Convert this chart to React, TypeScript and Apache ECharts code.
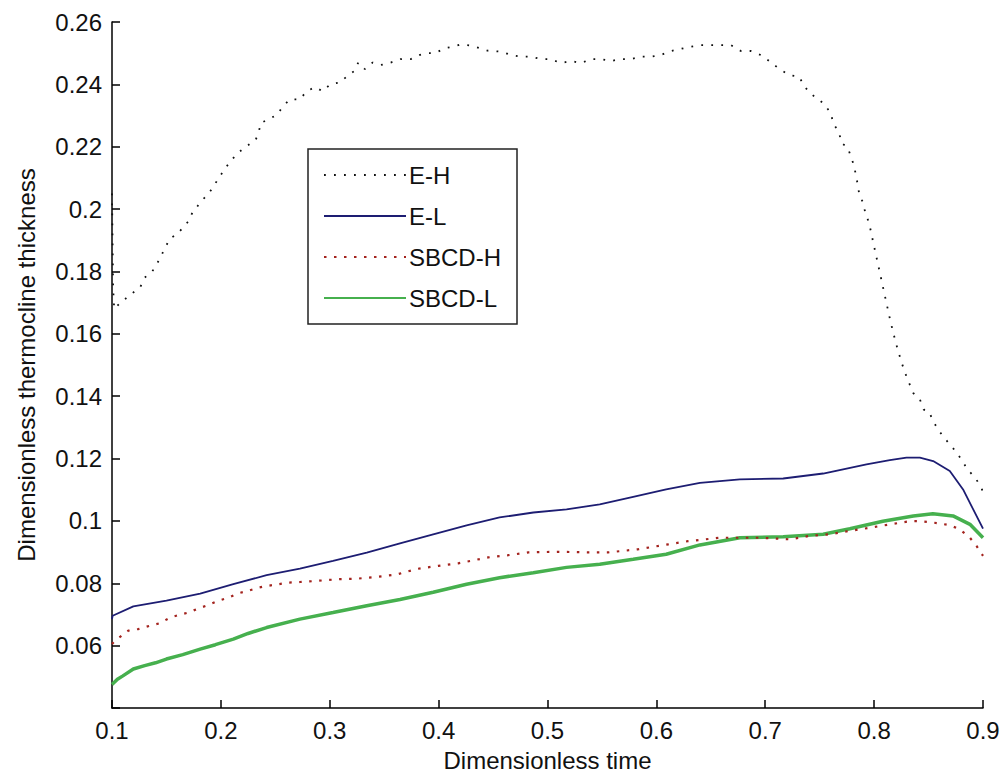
import React, { useEffect, useRef } from "react";
import * as echarts from "echarts";

const seriesNames = ["E-H", "E-L", "SBCD-H", "SBCD-L"];

const ehT = [0.1, 0.1005, 0.101, 0.102, 0.107, 0.115, 0.126, 0.13, 0.137, 0.143, 0.153, 0.16, 0.17, 0.174, 0.181, 0.192, 0.198, 0.204, 0.209, 0.2175, 0.2255, 0.232, 0.235, 0.2366, 0.244, 0.2512, 0.258, 0.2635, 0.2726, 0.2788, 0.2864, 0.2935, 0.3008, 0.3094, 0.3155, 0.3225, 0.3262, 0.3323, 0.3394, 0.3467, 0.356, 0.365, 0.3743, 0.3822, 0.389, 0.3966, 0.4058, 0.4134, 0.42, 0.428, 0.436, 0.445, 0.4578, 0.4664, 0.4756, 0.4848, 0.494, 0.503, 0.5123, 0.5215, 0.5307, 0.5399, 0.549, 0.558, 0.5674, 0.5766, 0.5858, 0.595, 0.604, 0.6134, 0.6226, 0.6317, 0.6409, 0.65, 0.6592, 0.6684, 0.6776, 0.6868, 0.696, 0.7036, 0.7127, 0.722, 0.731, 0.7364, 0.7455, 0.7532, 0.7602, 0.7624, 0.768, 0.77, 0.7756, 0.7807, 0.7829, 0.7847, 0.7862, 0.7899, 0.792, 0.7954, 0.8, 0.805, 0.81, 0.815, 0.82, 0.825, 0.83, 0.836, 0.842, 0.8456, 0.8505, 0.8542, 0.8597, 0.867, 0.8747, 0.8802, 0.8858, 0.8927, 0.8986, 0.9];
const ehV = [0.205, 0.19, 0.175, 0.168, 0.1697, 0.172, 0.175, 0.178, 0.18, 0.1835, 0.1905, 0.192, 0.196, 0.199, 0.202, 0.2065, 0.21, 0.213, 0.2155, 0.2185, 0.2206, 0.2222, 0.225, 0.2276, 0.2288, 0.2302, 0.2333, 0.2352, 0.2352, 0.2378, 0.2391, 0.2378, 0.2401, 0.2406, 0.2425, 0.2443, 0.247, 0.2449, 0.247, 0.2462, 0.247, 0.2481, 0.2481, 0.2494, 0.25, 0.25, 0.2516, 0.2521, 0.2528, 0.2525, 0.2518, 0.2508, 0.2505, 0.2494, 0.2489, 0.2489, 0.2481, 0.2481, 0.2468, 0.2475, 0.2468, 0.2481, 0.2481, 0.2475, 0.2481, 0.2481, 0.2489, 0.2489, 0.2494, 0.2507, 0.2514, 0.2521, 0.2526, 0.2526, 0.2526, 0.2526, 0.2507, 0.2507, 0.2494, 0.2475, 0.245, 0.243, 0.2425, 0.2391, 0.2359, 0.234, 0.2308, 0.2276, 0.2243, 0.2211, 0.2199, 0.2148, 0.2116, 0.2083, 0.2051, 0.2019, 0.1987, 0.1955, 0.188, 0.18, 0.172, 0.164, 0.157, 0.151, 0.146, 0.141, 0.139, 0.1357, 0.135, 0.132, 0.1288, 0.1256, 0.1224, 0.1197, 0.1165, 0.1139, 0.1107, 0.109];

const elT = [0.1, 0.1006, 0.1196, 0.15, 0.181, 0.2114, 0.242, 0.2726, 0.303, 0.334, 0.3645, 0.395, 0.4257, 0.456, 0.487, 0.5175, 0.548, 0.5787, 0.609, 0.64, 0.6767, 0.7165, 0.7532, 0.793, 0.8144, 0.8297, 0.842, 0.8542, 0.8695, 0.8817, 0.891, 0.9];
const elV = [0.0685, 0.0696, 0.0726, 0.0744, 0.0767, 0.0797, 0.0826, 0.0847, 0.0872, 0.0898, 0.0928, 0.0957, 0.0986, 0.1011, 0.1027, 0.1037, 0.1053, 0.1077, 0.1101, 0.1122, 0.1133, 0.1136, 0.1152, 0.1181, 0.1195, 0.1203, 0.1203, 0.1192, 0.116, 0.1101, 0.1037, 0.0975];

const shT = [0.1, 0.1028, 0.115, 0.124, 0.135, 0.144, 0.1533, 0.161, 0.17, 0.1792, 0.1884, 0.1976, 0.2068, 0.216, 0.2252, 0.2344, 0.2435, 0.2527, 0.262, 0.2726, 0.2894, 0.3078, 0.326, 0.3445, 0.3614, 0.38, 0.3997, 0.418, 0.4456, 0.4639, 0.4823, 0.51, 0.5374, 0.5557, 0.5833, 0.611, 0.629, 0.6583, 0.6767, 0.695, 0.7226, 0.741, 0.759, 0.7777, 0.796, 0.8144, 0.8328, 0.842, 0.851, 0.86, 0.8695, 0.8787, 0.888, 0.894, 0.9];
const shV = [0.0605, 0.0616, 0.0648, 0.0653, 0.0664, 0.0672, 0.069, 0.0698, 0.0706, 0.0719, 0.073, 0.0744, 0.0754, 0.0768, 0.0776, 0.0786, 0.0792, 0.0797, 0.0802, 0.0804, 0.0808, 0.0813, 0.0815, 0.0821, 0.0828, 0.0846, 0.0856, 0.0864, 0.0883, 0.089, 0.0899, 0.0901, 0.0899, 0.0899, 0.0909, 0.0925, 0.0935, 0.0946, 0.0946, 0.0946, 0.0941, 0.0952, 0.0957, 0.0968, 0.0978, 0.0989, 0.0999, 0.0999, 0.0996, 0.0992, 0.0986, 0.0973, 0.0946, 0.092, 0.0888];

const slT = [0.1, 0.105, 0.11, 0.1196, 0.13, 0.14, 0.15, 0.165, 0.181, 0.195, 0.2114, 0.225, 0.242, 0.2726, 0.303, 0.334, 0.3645, 0.395, 0.4257, 0.456, 0.487, 0.5175, 0.548, 0.5787, 0.609, 0.64, 0.6767, 0.7165, 0.7532, 0.7777, 0.808, 0.836, 0.854, 0.8725, 0.888, 0.9];
const slV = [0.0475, 0.0492, 0.0503, 0.0525, 0.0536, 0.0545, 0.0557, 0.0571, 0.0589, 0.0603, 0.0621, 0.0639, 0.0658, 0.0685, 0.0706, 0.0728, 0.0748, 0.0771, 0.0797, 0.0818, 0.0834, 0.0851, 0.0861, 0.0877, 0.0893, 0.0923, 0.0946, 0.0949, 0.0957, 0.0975, 0.0999, 0.1016, 0.1023, 0.1016, 0.0989, 0.0946];

const xTicks = { min: 0.1, max: 0.9, interval: 0.1 };
const yTicks = { min: 0.04, max: 0.26, interval: 0.02 };

const zip = (t: number[], v: number[]) => t.map((x, i) => [x, v[i]]);
const FONT = "'Liberation Sans', Arial, sans-serif";
const fmt = (v: number) => String(parseFloat(v.toFixed(2)));

export default function App() {
  const ref = useRef<HTMLDivElement>(null);
  useEffect(() => {
    if (!ref.current) return;
    const chart = echarts.init(ref.current, null, { renderer: "svg" });
    const axisCommon = {
      type: "value" as const,
      axisLine: { show: true, lineStyle: { color: "#000", width: 1.5 } },
      axisTick: { show: true, inside: true, length: 8, lineStyle: { color: "#000", width: 1.5 } },
      splitLine: { show: false },
      nameTextStyle: { fontFamily: FONT, fontSize: 24, color: "#111" },
    };
    chart.setOption({
      animation: false,
      backgroundColor: "#fff",
      grid: { left: 112, right: 25, top: 22, bottom: 75, containLabel: false },
      legend: {
        orient: "vertical",
        left: 308,
        top: 149,
        padding: [14, 16, 14, 15],
        itemWidth: 82,
        itemHeight: 20,
        itemGap: 17,
        borderColor: "#222",
        borderWidth: 1.5,
        backgroundColor: "#fff",
        itemStyle: { opacity: 0 },
        textStyle: { fontFamily: FONT, fontSize: 24, color: "#111", padding: [0, 0, 0, -2] },
        data: seriesNames,
      },
      xAxis: {
        ...axisCommon,
        ...xTicks,
        name: "Dimensionless time",
        nameLocation: "middle",
        nameGap: 40,
        axisLabel: { fontFamily: FONT, fontSize: 24, color: "#111", margin: 10, formatter: (v: number) => fmt(v) },
      },
      yAxis: {
        ...axisCommon,
        ...yTicks,
        name: "Dimensionless thermocline thickness",
        nameLocation: "middle",
        nameGap: 74,
        axisLabel: {
          fontFamily: FONT,
          fontSize: 24,
          color: "#111",
          margin: 10,
          formatter: (v: number) => (Math.abs(v - yTicks.min) < 1e-6 ? "" : fmt(v)),
        },
      },
      series: [
        {
          name: seriesNames[0],
          type: "line",
          data: zip(ehT, ehV),
          symbol: "none",
          lineStyle: { color: "#111", width: 1.8, type: [1.8, 8.2] },
          z: 2,
        },
        {
          name: seriesNames[1],
          type: "line",
          data: zip(elT, elV),
          symbol: "none",
          lineStyle: { color: "#1d1d72", width: 1.8 },
          z: 3,
        },
        {
          name: seriesNames[2],
          type: "line",
          data: zip(shT, shV),
          symbol: "none",
          lineStyle: { color: "#a3231e", width: 2.2, type: [2.5, 7.5] },
          z: 4,
        },
        {
          name: seriesNames[3],
          type: "line",
          data: zip(slT, slV),
          symbol: "none",
          lineStyle: { color: "#46b04e", width: 3.5 },
          z: 3,
        },
      ],
    });
    return () => chart.dispose();
  }, []);
  return (
    <div
      ref={ref}
      style={{ position: "fixed", left: 0, top: 0, width: 1008, height: 783, background: "#fff" }}
    />
  );
}
